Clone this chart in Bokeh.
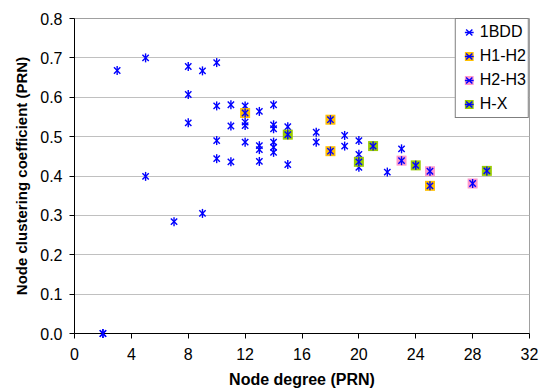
from bokeh.plotting import figure
from bokeh.models import ColumnDataSource, FixedTicker, Legend, LegendItem, PrintfTickFormatter, Range1d
from bokeh.embed import file_html
from bokeh.resources import INLINE
import math

# --- data ---
bdd_x = [2, 2, 3, 5, 5, 7, 8, 8, 8, 9, 9, 10, 10, 10, 10, 11, 11, 11,
         12, 12, 12, 12, 12, 13, 13, 13, 13, 14, 14, 14, 14, 14, 14,
         15, 15, 15, 17, 17, 18, 18, 19, 19, 20, 20, 20, 20, 21, 22,
         23, 23, 24, 25, 25, 28, 29]
bdd_y = [0.0, 0.0, 0.668, 0.700, 0.399, 0.284, 0.678, 0.607, 0.535, 0.667, 0.305,
         0.688, 0.578, 0.490, 0.444, 0.581, 0.527, 0.436,
         0.578, 0.560, 0.537, 0.528, 0.486, 0.564, 0.477, 0.467, 0.437,
         0.581, 0.530, 0.520, 0.486, 0.473, 0.460,
         0.525, 0.505, 0.429, 0.511, 0.486, 0.543, 0.463, 0.503, 0.476,
         0.490, 0.455, 0.436, 0.422, 0.476, 0.410,
         0.469, 0.439, 0.427, 0.412, 0.375, 0.381, 0.413]

h1h2_x = [12, 18, 18, 25]
h1h2_y = [0.560, 0.543, 0.463, 0.375]

h2h3_x = [23, 25, 28]
h2h3_y = [0.439, 0.412, 0.381]

hx_x = [15, 20, 21, 24, 29]
hx_y = [0.505, 0.436, 0.476, 0.427, 0.413]

x_ticks = [0, 4, 8, 12, 16, 20, 24, 28, 32]
y_ticks = [0.0, 0.1, 0.2, 0.3, 0.4, 0.5, 0.6, 0.7, 0.8]

FONT = "Liberation Sans"
BLUE = "#0000FF"

p = figure(width=539, height=392, output_backend="svg", toolbar_location=None,
           x_range=Range1d(0, 32), y_range=Range1d(0, 0.8),
           min_border_left=74, min_border_right=10, min_border_top=18, min_border_bottom=59)
p.background_fill_color = "white"
p.border_fill_color = "white"
p.outline_line_color = "#A0A0A0"

def star(src):
    r1 = p.scatter("x", "y", source=src, marker="x", size=9, line_color=BLUE, line_width=1.4, level="overlay")
    r2 = p.scatter("x", "y", source=src, marker="dash", angle=math.pi / 2, size=9, line_color=BLUE,
                   line_width=1.4, level="overlay")
    return [r1, r2]

items = []
s_bdd = ColumnDataSource(dict(x=bdd_x, y=bdd_y))
items.append(LegendItem(label="1BDD", renderers=star(s_bdd)))

for label, xs, ys, col in [("H1-H2", h1h2_x, h1h2_y, "#FFC000"),
                           ("H2-H3", h2h3_x, h2h3_y, "#FF99CC"),
                           ("H-X", hx_x, hx_y, "#99CC00")]:
    src = ColumnDataSource(dict(x=xs, y=ys))
    sq = p.scatter("x", "y", source=src, marker="square", size=10, fill_color=col, line_color=None,
                   level="overlay")
    items.append(LegendItem(label=label, renderers=[sq] + star(src)))

legend = Legend(items=items, location="top_right", margin=0, padding=2, spacing=2,
                glyph_width=22, glyph_height=22, label_height=22, label_standoff=0,
                border_line_color="black", border_line_width=1, background_fill_color="white",
                background_fill_alpha=1.0, label_text_font=FONT, label_text_font_size="16px",
                label_text_color="black")
p.add_layout(legend, "center")

# axes
p.xaxis.ticker = FixedTicker(ticks=x_ticks)
p.yaxis.ticker = FixedTicker(ticks=y_ticks)
p.yaxis.formatter = PrintfTickFormatter(format="%.1f")
for ax in (p.xaxis, p.yaxis):
    ax.axis_line_color = "black"
    ax.axis_line_width = 1
    ax.major_tick_line_color = "black"
    ax.major_tick_out = 5
    ax.major_tick_in = 0
    ax.minor_tick_line_color = None
    ax.major_label_text_font = FONT
    ax.major_label_text_font_size = "16px"
    ax.major_label_text_color = "black"
    ax.axis_label_text_font = FONT
    ax.axis_label_text_font_style = "bold"
    ax.axis_label_text_color = "black"

p.xaxis.axis_label = "Node degree (PRN)"
p.yaxis.axis_label = "Node clustering coefficient (PRN)"
p.xaxis.axis_label_text_font_size = "16px"
p.yaxis.axis_label_text_font_size = "15px"
p.xaxis.major_label_standoff = 9
p.xaxis.axis_label_standoff = 8
p.yaxis.major_label_standoff = 7
p.yaxis.axis_label_standoff = 7

p.xgrid.grid_line_color = None
p.ygrid.grid_line_color = "#C0C0C0"
p.ygrid.grid_line_width = 1

open("out.html", "w").write(file_html(p, INLINE))
